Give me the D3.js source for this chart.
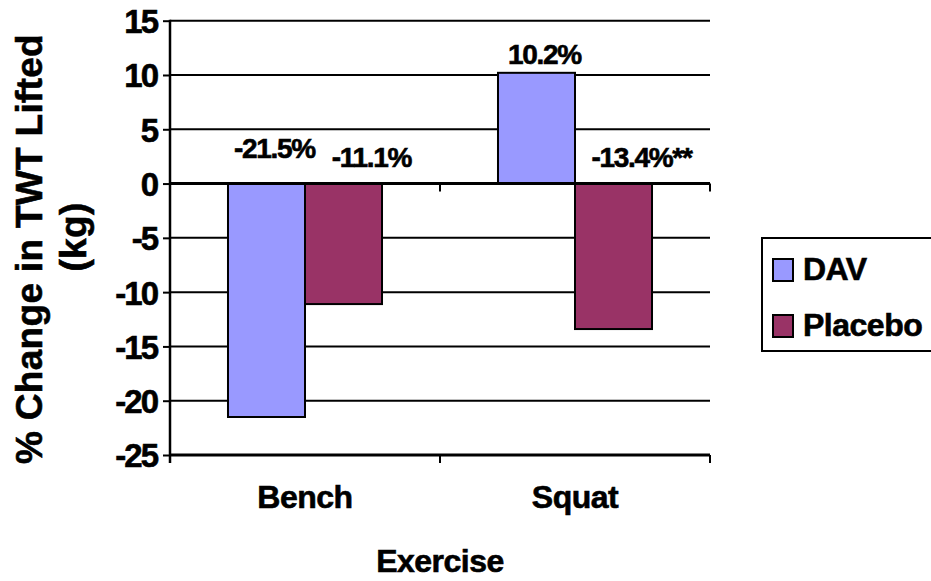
<!DOCTYPE html>
<html>
<head>
<meta charset="utf-8">
<script src="https://cdn.jsdelivr.net/npm/d3@7"></script>
<style>
  html, body { margin: 0; padding: 0; background: #fff; }
  svg { display: block; }
  text { font-family: "Liberation Sans", Arial, sans-serif; font-weight: bold; fill: #000; stroke: #000; stroke-width: 0.6px; }
</style>
</head>
<body>
<script>
// Exercise categories and series
const categories = ["Bench", "Squat"];
const seriesNames = ["DAV", "Placebo"];
const davValues = [-21.5, 10.2];
const placeboValues = [-11.1, -13.4];
const valueLabels = [["-21.5%", "-11.1%"], ["10.2%", "-13.4%**"]];
const yTicks = [15, 10, 5, 0, -5, -10, -15, -20, -25];
const seriesColors = ["#9999FF", "#993366"];

const W = 931, H = 581;
const svg = d3.select("body").append("svg").attr("width", W).attr("height", H);

const plot = { left: 170, right: 710, top: 20.7, bottom: 455 };

const y = d3.scaleLinear().domain([-25, 15]).range([plot.bottom, plot.top]);
const x0 = d3.scaleBand().domain(categories).range([plot.left, plot.right]).paddingInner(0).paddingOuter(0);
const x1 = d3.scaleBand().domain(seriesNames).range([0, x0.bandwidth()]).paddingInner(0).paddingOuter(0.753);

const rows = categories.map((c, i) => ({
  category: c,
  values: [
    { series: seriesNames[0], value: davValues[i], label: valueLabels[i][0], color: seriesColors[0] },
    { series: seriesNames[1], value: placeboValues[i], label: valueLabels[i][1], color: seriesColors[1] }
  ]
}));

// horizontal gridlines
svg.append("g")
  .selectAll("line")
  .data(yTicks.filter(t => t !== 0 && t !== -25))
  .join("line")
  .attr("x1", plot.left).attr("x2", plot.right)
  .attr("y1", d => y(d)).attr("y2", d => y(d))
  .attr("stroke", "#000").attr("stroke-width", 2);

// bars
const groups = svg.append("g")
  .selectAll("g")
  .data(rows)
  .join("g")
  .attr("transform", d => `translate(${x0(d.category)},0)`);

groups.selectAll("rect")
  .data(d => d.values)
  .join("rect")
  .attr("x", d => x1(d.series))
  .attr("width", x1.bandwidth())
  .attr("y", d => y(Math.max(0, d.value)))
  .attr("height", d => Math.abs(y(d.value) - y(0)))
  .attr("fill", d => d.color)
  .attr("stroke", "#000")
  .attr("stroke-width", 2);

// value labels: DAV sits nearer its bar, Placebo shifted right
const labelShift = { DAV: { dx: 8, dy: -26 }, Placebo: { dx: 28, dy: -17 } };
groups.selectAll("text.val")
  .data(d => d.values)
  .join("text")
  .attr("class", "val")
  .attr("x", d => x1(d.series) + x1.bandwidth() / 2 + labelShift[d.series].dx)
  .attr("y", d => d.value > 0 ? y(d.value) - 9 : y(0) + labelShift[d.series].dy)
  .attr("text-anchor", "middle")
  .style("font-size", "28px")
  .style("letter-spacing", "-1.3px")
  .text(d => d.label);

// y axis
const yAxis = d3.axisLeft(y).tickValues(yTicks).tickSize(7).tickPadding(6).tickFormat(d => String(d));
const gy = svg.append("g").attr("transform", `translate(${plot.left},0)`).call(yAxis);
gy.select(".domain").remove();
gy.selectAll(".tick line").attr("stroke", "#000").attr("stroke-width", 2);
gy.selectAll(".tick text")
  .style("font-size", "33px")
  .style("letter-spacing", "-2px")
  .style("font-family", "Liberation Sans, Arial, sans-serif")
  .attr("fill", "#000")
  .attr("dy", "0.36em");
svg.append("line")
  .attr("x1", plot.left).attr("x2", plot.left)
  .attr("y1", plot.top - 1).attr("y2", plot.bottom + 8)
  .attr("stroke", "#000").attr("stroke-width", 2.5);

// category axis at zero and at the base of the plot, ticks between categories
const boundaries = [plot.left, plot.left + x0.step(), plot.right];
[0, -25].forEach(v => {
  svg.append("line")
    .attr("x1", plot.left).attr("x2", plot.right)
    .attr("y1", y(v)).attr("y2", y(v))
    .attr("stroke", "#000").attr("stroke-width", 3);
  svg.append("g").selectAll("line")
    .data(boundaries.slice(1))
    .join("line")
    .attr("x1", d => d).attr("x2", d => d)
    .attr("y1", y(v)).attr("y2", y(v) + 8)
    .attr("stroke", "#000").attr("stroke-width", 2);
});

// category labels
svg.append("g").selectAll("text")
  .data(categories)
  .join("text")
  .attr("x", d => x0(d) + x0.bandwidth() / 2)
  .attr("y", 508)
  .attr("text-anchor", "middle")
  .style("font-size", "32px")
  .style("letter-spacing", "-0.5px")
  .text(d => d);

// axis titles
svg.append("text")
  .attr("x", (plot.left + plot.right) / 2)
  .attr("y", 572)
  .attr("text-anchor", "middle")
  .style("font-size", "32px")
  .style("letter-spacing", "-0.5px")
  .text("Exercise");

const yTitle = svg.append("text")
  .attr("transform", "translate(0,249) rotate(-90)")
  .attr("text-anchor", "middle")
  .style("font-size", "37px")
  .style("letter-spacing", "0.3px");
yTitle.append("tspan").attr("x", 0).attr("y", 42).text("% Change in TWT Lifted");
yTitle.append("tspan").attr("x", 12).attr("y", 86).text("(kg)");

// legend
const legend = svg.append("g");
legend.append("rect")
  .attr("x", 762).attr("y", 238).attr("width", 200).attr("height", 113)
  .attr("fill", "#fff").attr("stroke", "#000").attr("stroke-width", 2);
const items = legend.selectAll("g.item")
  .data(seriesNames)
  .join("g")
  .attr("class", "item")
  .attr("transform", (d, i) => `translate(773,${259 + i * 56})`);
items.append("rect")
  .attr("width", 20).attr("height", 22)
  .attr("fill", (d, i) => seriesColors[i])
  .attr("stroke", "#000").attr("stroke-width", 2);
items.append("text")
  .attr("x", 30).attr("y", 21)
  .style("font-size", "32px")
  .style("letter-spacing", "-0.5px")
  .text(d => d);
</script>
</body>
</html>
